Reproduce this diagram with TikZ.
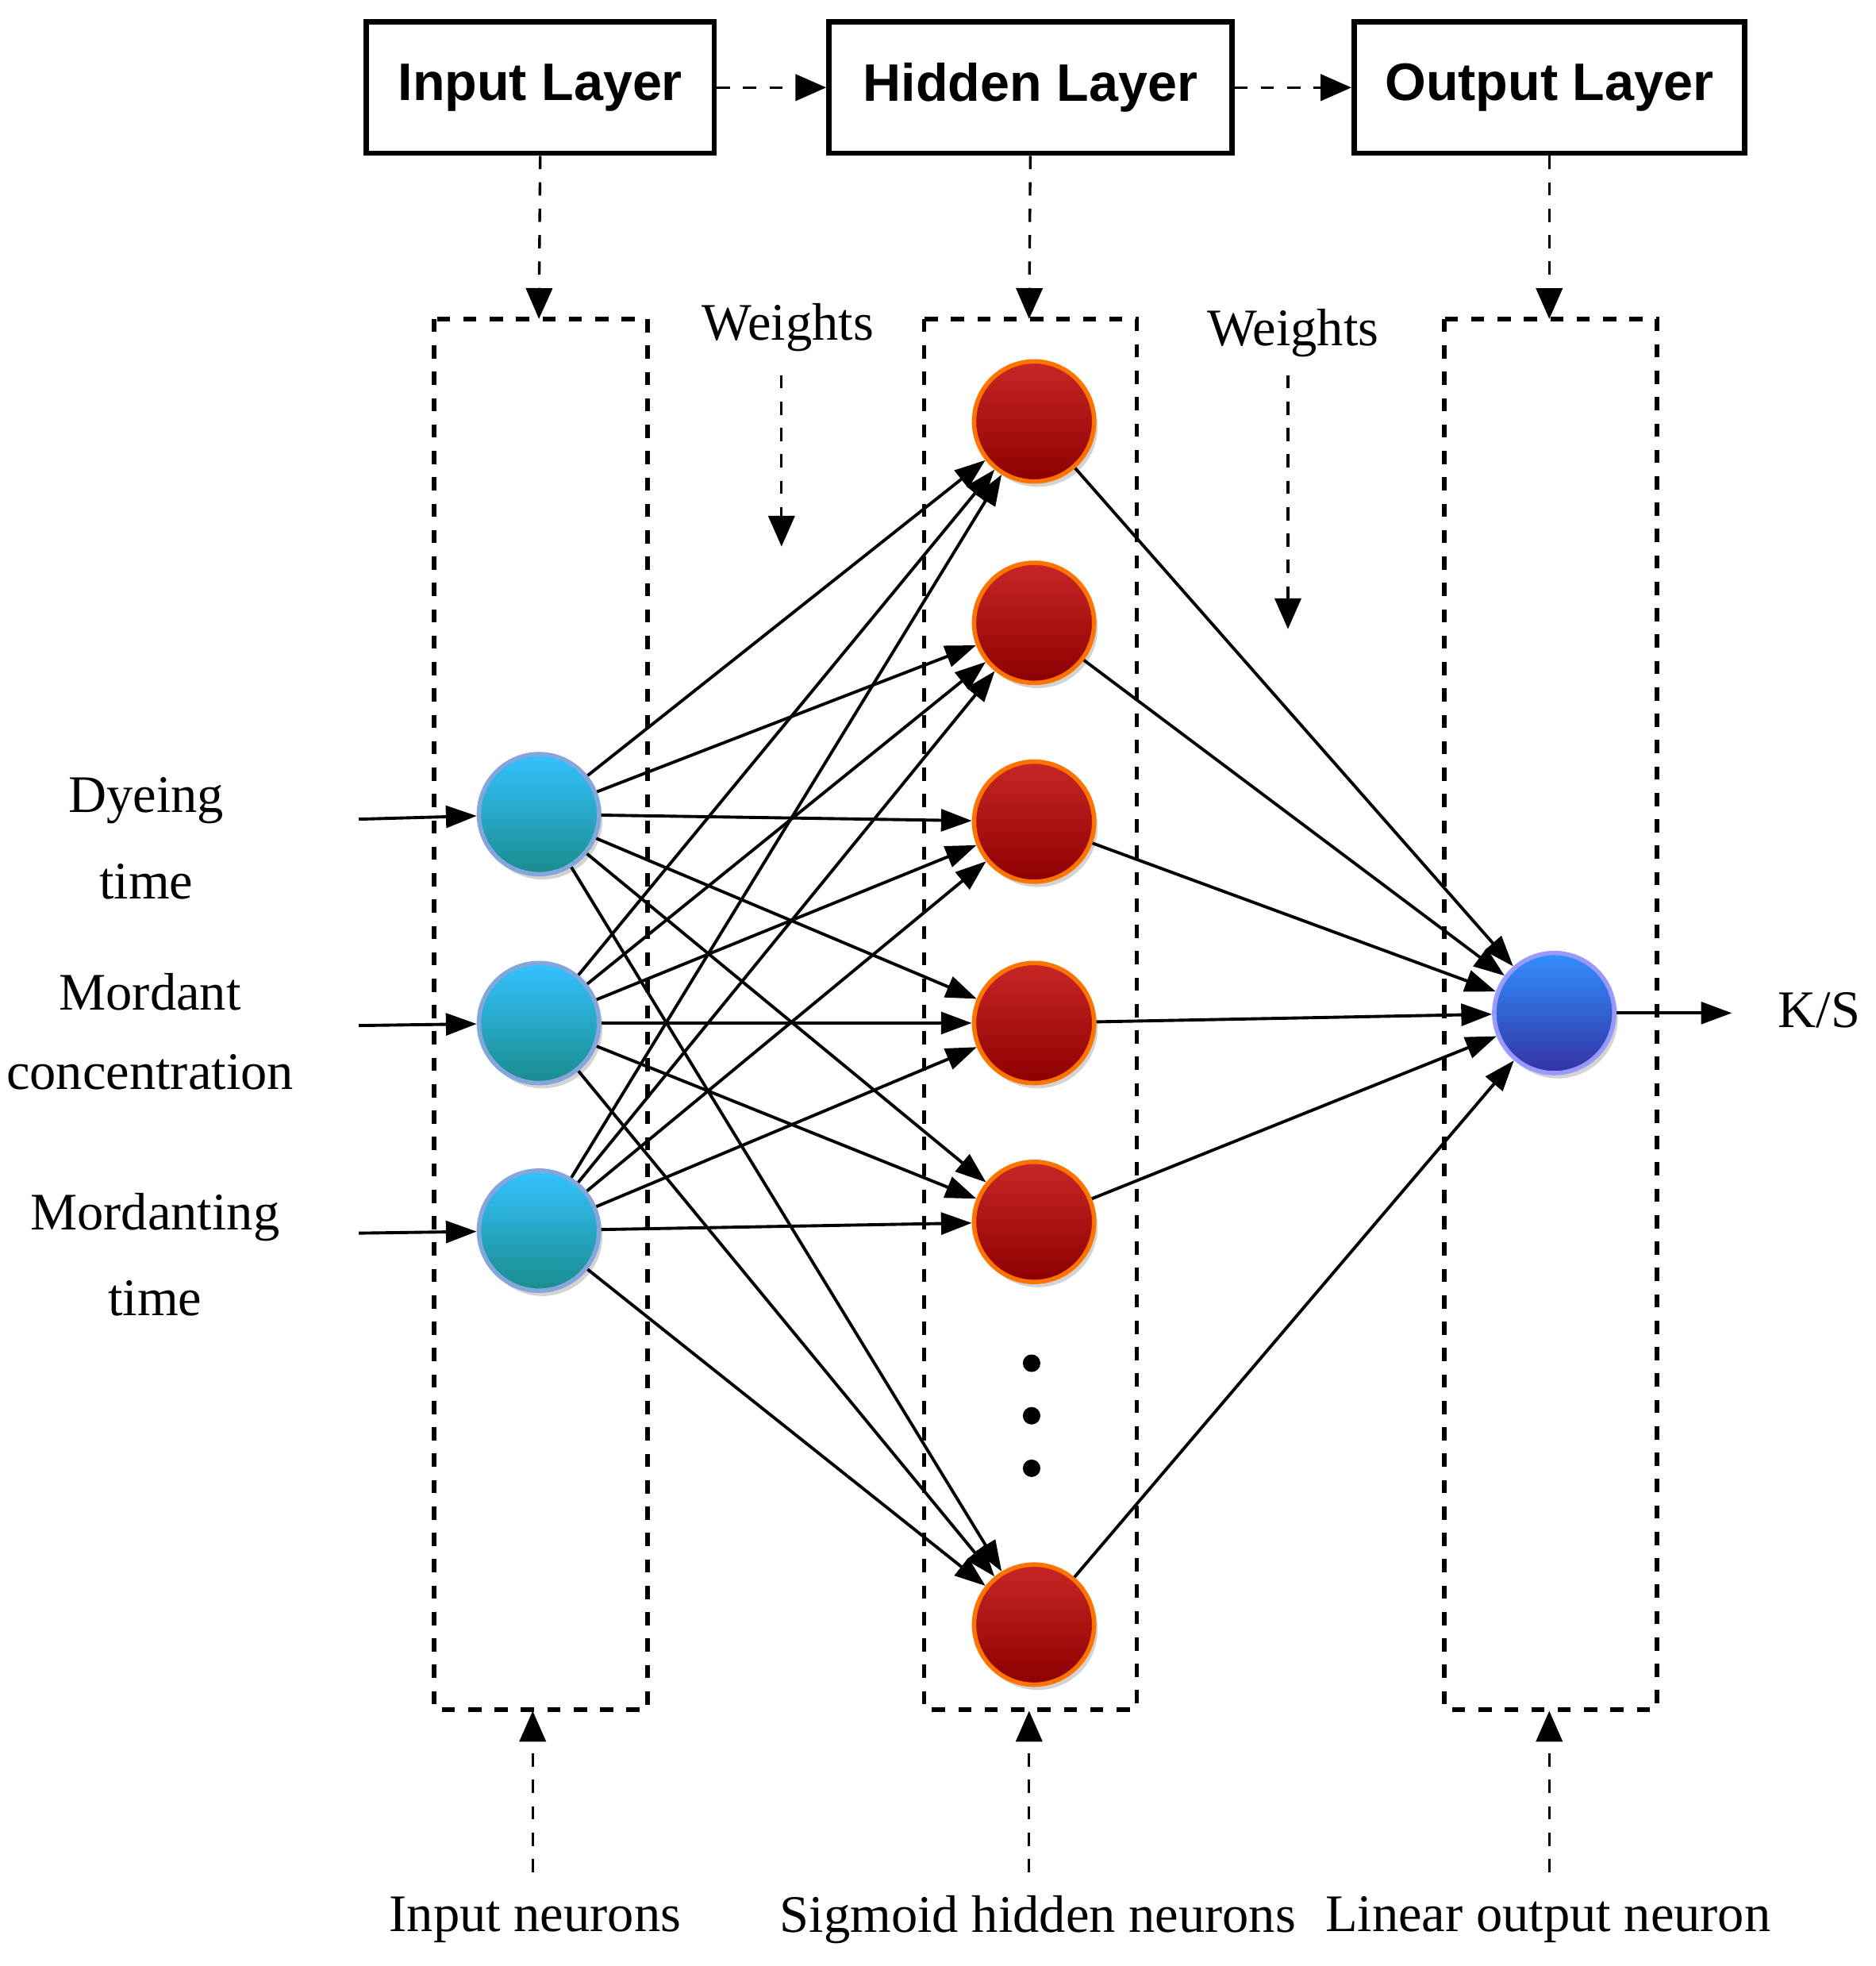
\documentclass[tikz,border=0pt]{standalone}
\usepackage{fontspec}
\setmainfont{Liberation Serif}
\newfontfamily\boxfont{Liberation Sans}
\usetikzlibrary{arrows.meta,shadows}
\begin{document}
\begin{tikzpicture}[x=0.01cm,y=-0.01cm,
  lbox/.style={draw,line width=1.2pt,minimum width=#1,minimum height=1.05cm,font=\boxfont\bfseries\fontsize{12}{14}\selectfont},
  col/.style={draw,dashed,line width=1pt},
  darr/.style={dashed,-{Triangle[length=7pt,width=6pt]},line width=0.6pt},
  arr/.style={-{Triangle[length=7pt,width=5pt]},line width=0.7pt},
  neu/.style={circle,minimum size=0.96cm,inner sep=0,line width=1pt,drop shadow={opacity=0.35,shadow xshift=0.8pt,shadow yshift=-1.2pt}},
  inn/.style={neu,draw=cyan!50!blue!50!white,top color=cyan!70!blue!80!white,bottom color=cyan!50!black!90},
  hid/.style={neu,draw=orange!90!red,top color=red!75!black!85!white,bottom color=red!55!black},
  outn/.style={neu,draw=blue!40!white,top color=blue!55!cyan!80,bottom color=blue!55!black!80},
  lab/.style={font=\fontsize{12}{14}\selectfont}]
\useasboundingbox (0,0) rectangle (1500,1572);
\node[lbox=2.78cm] (bi) at (432,70) {Input Layer};
\node[lbox=3.22cm] (bh) at (824,70) {Hidden Layer};
\node[lbox=3.12cm] (bo) at (1239,70) {Output Layer};
\draw[darr] (bi) -- (bh);
\draw[darr] (bh) -- (bo);
\draw[col] (347,255) rectangle (518,1367);
\draw[col] (739,255) rectangle (909,1367);
\draw[col] (1155,255) rectangle (1325,1367);
\coordinate (ci) at (431,255); \coordinate (ch) at (823,255); \coordinate (co) at (1239,255);
\draw[darr] (bi.south) -- (ci);
\draw[darr] (bh.south) -- (ch);
\draw[darr] (bo.south) -- (co);
\node[inn] (i1) at (431,651) {};
\node[inn] (i2) at (431,818) {};
\node[inn] (i3) at (431,984) {};
\foreach \n/\y in {1/337,2/498,3/657,4/818,5/977,6/1299} \node[hid] (h\n) at (827,\y) {};
\node[outn] (o) at (1243,810) {};
\foreach \y in {1090,1132,1174} \fill (825,\y) circle (0.07cm);
\foreach \i in {1,2,3} \foreach \h in {1,...,6} \draw[arr] (i\i) -- (h\h);
\foreach \h in {1,...,6} \draw[arr] (h\h) -- (o);
\coordinate (ks) at (1385,810);
\draw[arr] (o) -- (ks);
\node[lab] (kst) at (1455,808) {K/S};
\coordinate (a1) at (287,655); \coordinate (a2) at (287,820); \coordinate (a3) at (287,986);
\draw[arr] (a1) -- (i1); \draw[arr] (a2) -- (i2); \draw[arr] (a3) -- (i3);
\node[lab] (t1) at (117,640) {Dyeing};
\node[lab] (t2) at (117,705) {time};
\node[lab] (t3) at (120,793) {Mordant};
\node[lab] (t4) at (120,857) {concentration};
\node[lab] (t5) at (124,973) {Mordanting};
\node[lab] (t6) at (124,1038) {time};
\node[lab] (w1) at (630,262) {Weights};
\node[lab] (w2) at (1034,266) {Weights};
\coordinate (w1s) at (625,300); \coordinate (w1e) at (625,437);
\coordinate (w2s) at (1030,300); \coordinate (w2e) at (1030,503);
\draw[darr] (w1s) -- (w1e); \draw[darr] (w2s) -- (w2e);
\coordinate (b1) at (426,1497); \coordinate (b1e) at (426,1368);
\coordinate (b2) at (823,1497); \coordinate (b2e) at (823,1368);
\coordinate (b3) at (1239,1497); \coordinate (b3e) at (1239,1368);
\draw[darr] (b1) -- (b1e); \draw[darr] (b2) -- (b2e); \draw[darr] (b3) -- (b3e);
\node[lab] (n1) at (428,1535) {Input neurons};
\node[lab] (n2) at (830,1535) {Sigmoid hidden neurons};
\node[lab] (n3) at (1238,1535) {Linear output neuron};
\end{tikzpicture}
\end{document}
